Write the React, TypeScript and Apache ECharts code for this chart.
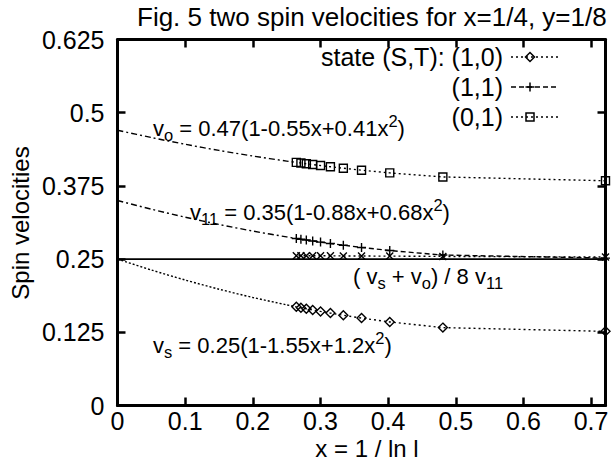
import React, { useEffect, useRef } from 'react';
import * as echarts from 'echarts';

// x = 1 / ln l  for l = 4, 8, 12, ..., 44
const xData = [0.7213, 0.4809, 0.4024, 0.3607, 0.3338, 0.3147, 0.3001, 0.2885, 0.2791, 0.2711, 0.2643];
// state (1,0)
const vS = [0.1266, 0.1330, 0.1427, 0.1493, 0.1541, 0.1578, 0.1607, 0.1632, 0.1652, 0.1670, 0.1685];
// state (1,1)
const v11 = [0.2517, 0.2569, 0.2646, 0.2699, 0.2737, 0.2766, 0.2790, 0.2810, 0.2826, 0.2840, 0.2852];
// state (0,1)
const vO = [0.3838, 0.3903, 0.3972, 0.4018, 0.4052, 0.4077, 0.4098, 0.4115, 0.4129, 0.4141, 0.4151];
// (vs + vo) / 8 v11
const ratio = [0.2535, 0.2546, 0.2551, 0.2552, 0.2554, 0.2556, 0.2556, 0.2556, 0.2557, 0.2558, 0.2558];

const fitX = [0, 0.05, 0.1, 0.15, 0.2, 0.25, 0.2643];
const fitVS = [0.25, 0.2314, 0.2143, 0.1986, 0.1845, 0.1719, 0.1685];
const fitV11 = [0.35, 0.3352, 0.3216, 0.3092, 0.2979, 0.2879, 0.2852];
const fitVO = [0.47, 0.4576, 0.4461, 0.4356, 0.426, 0.4174, 0.4151];

const refLevel = 0.25;
const xMax = 0.7213;
const xTickLabels = ['0', '0.1', '0.2', '0.3', '0.4', '0.5', '0.6', '0.7'];
const yTickLabels = ['0', '0.125', '0.25', '0.375', '0.5', '0.625'];
const legendNames = ['state (S,T): (1,0)', '(1,1)', '(0,1)'];

const FONT = 'Liberation Sans, Arial, Helvetica, sans-serif';

const zip = (xs: number[], ys: number[]) => xs.map((x, i) => [x, ys[i]]);

const richStyles = (size: number) => ({
  m: { fontSize: size, fontFamily: FONT, lineHeight: size + 9, verticalAlign: 'middle', fill: '#000' },
  s: { fontSize: size * 0.75, fontFamily: FONT, lineHeight: size * 0.75, verticalAlign: 'bottom', fill: '#000' },
  p: { fontSize: size * 0.75, fontFamily: FONT, lineHeight: size * 0.75, verticalAlign: 'top', fill: '#000' },
});

export default function App() {
  const ref = useRef<HTMLDivElement>(null);
  useEffect(() => {
    if (!ref.current) return;
    const chart = echarts.init(ref.current, undefined, { renderer: 'svg' });

    const axisCommon = {
      type: 'value' as const,
      axisLine: { show: true, onZero: false, lineStyle: { color: '#000', width: 3 } },
      axisTick: { show: true, inside: true, length: 8, lineStyle: { color: '#000', width: 2.5 } },
      splitLine: { show: false },
    };
    const xFmt = (v: number) => {
      const k = Math.round(v * 10);
      return Math.abs(v * 10 - k) < 1e-6 && k >= 0 && k < xTickLabels.length ? xTickLabels[k] : '';
    };
    const yFmt = (v: number) => {
      const k = Math.round(v / 0.125);
      return Math.abs(v / 0.125 - k) < 1e-6 ? yTickLabels[k] : '';
    };

    const fs = 22;
    const rich = richStyles(fs);
    const lx = 503;
    const sx1 = 511;
    const sx2 = 558;
    const mx = 530;
    const rows = [57, 87, 117];

    const legendGraphics: any[] = [];
    legendNames.forEach((name, i) => {
      legendGraphics.push({
        type: 'text', x: lx, y: rows[i],
        style: { text: name, font: `25px ${FONT}`, fill: '#000', align: 'right', verticalAlign: 'middle' },
      });
      legendGraphics.push({
        type: 'line', shape: { x1: sx1, y1: rows[i], x2: sx2, y2: rows[i] },
        style: { stroke: '#000', lineWidth: 1.5, lineDash: i === 1 ? [5, 3] : [2, 3] },
      });
    });
    legendGraphics.push({
      type: 'polygon', shape: { points: [[mx, rows[0] - 4.5], [mx + 4.5, rows[0]], [mx, rows[0] + 4.5], [mx - 4.5, rows[0]]] },
      style: { fill: 'none', stroke: '#000', lineWidth: 1.5 },
    });
    legendGraphics.push({ type: 'line', shape: { x1: mx - 4.5, y1: rows[1], x2: mx + 4.5, y2: rows[1] }, style: { stroke: '#000', lineWidth: 1.5 } });
    legendGraphics.push({ type: 'line', shape: { x1: mx, y1: rows[1] - 4.5, x2: mx, y2: rows[1] + 4.5 }, style: { stroke: '#000', lineWidth: 1.5 } });
    legendGraphics.push({
      type: 'rect', shape: { x: mx - 4, y: rows[2] - 4, width: 8, height: 8 },
      style: { fill: 'none', stroke: '#000', lineWidth: 1.5 },
    });

    const dataSeries = (name: string, ys: number[], symbol: string, size: number, dash: number[]) => ({
      name, type: 'line', data: zip(xData, ys), symbol, symbolSize: size,
      lineStyle: { color: '#000', width: 1.4, type: dash },
      itemStyle: { color: 'rgba(0,0,0,0)', borderColor: '#000', borderWidth: 1.4 },
      z: 3,
    });
    const fitSeries = (name: string, ys: number[], dash: number[]) => ({
      name, type: 'line', data: zip(fitX, ys), symbol: 'none', smooth: 0.3,
      lineStyle: { color: '#000', width: 1.4, type: dash },
      z: 2,
    });

    chart.setOption({
      animation: false,
      backgroundColor: '#fff',
      grid: { left: 117.5, right: 7.5, top: 39.5, bottom: 58.5, containLabel: false },
      xAxis: [
        { ...axisCommon, min: 0, max: xMax, interval: 0.1, position: 'bottom',
          axisLabel: { formatter: xFmt, color: '#000', fontSize: 25, fontFamily: FONT, margin: 3 } },
        { ...axisCommon, min: 0, max: xMax, interval: 0.1, position: 'top', axisLabel: { show: false } },
      ],
      yAxis: [
        { ...axisCommon, min: 0, max: 0.625, interval: 0.125, position: 'left',
          axisLabel: { formatter: yFmt, color: '#000', fontSize: 25, fontFamily: FONT, margin: 13 } },
        { ...axisCommon, min: 0, max: 0.625, interval: 0.125, position: 'right', axisLabel: { show: false } },
      ],
      series: [
        {
          name: 'ref', type: 'line', data: [[0, refLevel], [xMax, refLevel]], symbol: 'none',
          lineStyle: { color: '#000', width: 1.6, type: 'solid' }, z: 1,
        },
        fitSeries('fit vs', fitVS, [2, 2]),
        fitSeries('fit v11', fitV11, [6, 3, 2, 3]),
        fitSeries('fit vo', fitVO, [6, 3, 2, 3]),
        dataSeries('(1,0)', vS, 'diamond', 9, [2, 3]),
        dataSeries('(1,1)', v11, 'path://M5,0L5,10M0,5L10,5', 9, [5, 3]),
        dataSeries('(0,1)', vO, 'rect', 8, [2, 3]),
        dataSeries('ratio', ratio, 'path://M0,0L10,10M10,0L0,10', 7, [2, 3]),
      ],
      graphic: [
        { type: 'text', x: 137, y: 17, style: { text: 'Fig. 5 two spin velocities for x=1/4, y=1/8', font: `26px ${FONT}`, fill: '#000', align: 'left', verticalAlign: 'middle' } },
        { type: 'text', x: 20, y: 223, rotation: Math.PI / 2, style: { text: 'Spin velocities', font: `24px ${FONT}`, fill: '#000', align: 'center', verticalAlign: 'middle' } },
        { type: 'text', x: 367, y: 448, style: { text: 'x = 1 / ln l', font: `24px ${FONT}`, fill: '#000', align: 'center', verticalAlign: 'middle' } },
        { type: 'text', x: 153, y: 128, style: { text: '{m|v}{s|o}{m| = 0.47(1-0.55x+0.41x}{p|2}{m|)}', rich, align: 'left', verticalAlign: 'middle' } },
        { type: 'text', x: 190, y: 212, style: { text: '{m|v}{s|11}{m| = 0.35(1-0.88x+0.68x}{p|2}{m|)}', rich, align: 'left', verticalAlign: 'middle' } },
        { type: 'text', x: 353, y: 276, style: { text: '{m|( v}{s|s}{m| + v}{s|o}{m|) / 8 v}{s|11}', rich, align: 'left', verticalAlign: 'middle' } },
        { type: 'text', x: 153, y: 345, style: { text: '{m|v}{s|s}{m| = 0.25(1-1.55x+1.2x}{p|2}{m|)}', rich, align: 'left', verticalAlign: 'middle' } },
        ...legendGraphics,
      ],
    });
    return () => chart.dispose();
  }, []);
  return <div ref={ref} style={{ position: 'fixed', left: 0, top: 0, width: 613, height: 464, background: '#fff' }} />;
}
